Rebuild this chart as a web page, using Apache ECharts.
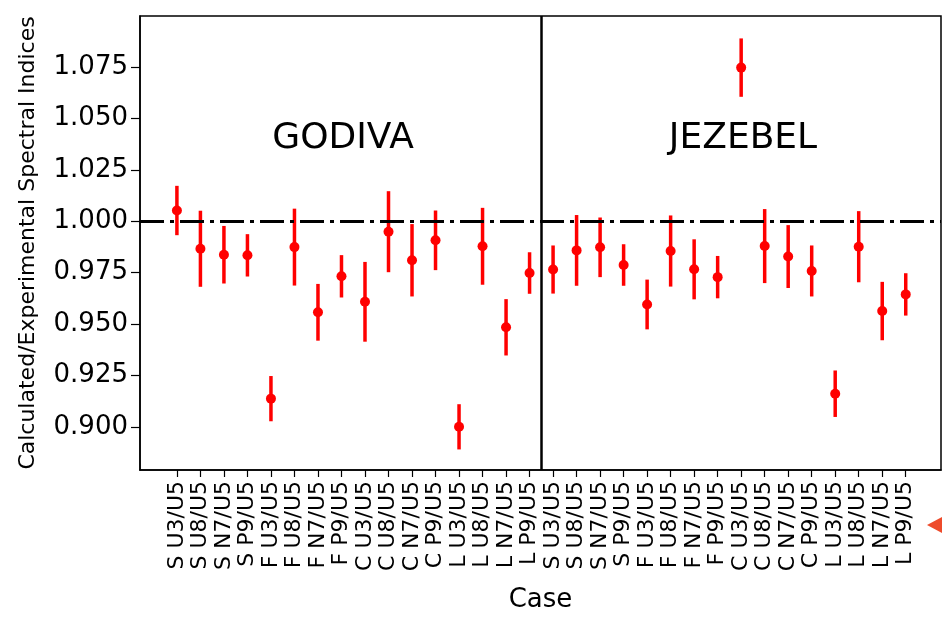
<!DOCTYPE html>
<html>
<head>
<meta charset="utf-8">
<script src="https://cdn.jsdelivr.net/npm/echarts@6/dist/echarts.min.js"></script>
<style>
  html, body { margin: 0; padding: 0; background: #fff; }
  #chart { width: 942px; height: 619px; }
</style>
</head>
<body>
<div id="chart"></div>
<script>
// case labels, same for both assemblies
var caseLabels = ['S U3/U5', 'S U8/U5', 'S N7/U5', 'S P9/U5',
  'F U3/U5', 'F U8/U5', 'F N7/U5', 'F P9/U5',
  'C U3/U5', 'C U8/U5', 'C N7/U5', 'C P9/U5',
  'L U3/U5', 'L U8/U5', 'L N7/U5', 'L P9/U5']

var godivaVals = [1.0052, 0.9866, 0.9837, 0.9834, 0.9137, 0.9874, 0.9557, 0.9732,
  0.9608, 0.9949, 0.9810, 0.9907, 0.9000, 0.9878, 0.9484, 0.9748]
var godivaErr = [0.0120, 0.0185, 0.0140, 0.0103, 0.0110, 0.0187, 0.0138, 0.0103,
  0.0194, 0.0197, 0.0176, 0.0145, 0.0110, 0.0187, 0.0137, 0.0101]

var jezebelVals = [0.9765, 0.9858, 0.9873, 0.9787, 0.9595, 0.9855, 0.9766, 0.9728,
  1.0747, 0.9879, 0.9828, 0.9758, 0.9161, 0.9876, 0.9563, 0.9644]
var jezebelErr = [0.0117, 0.0172, 0.0145, 0.0101, 0.0121, 0.0173, 0.0146, 0.0103,
  0.0142, 0.0180, 0.0153, 0.0124, 0.0113, 0.0173, 0.0142, 0.0103]

var yTicks = [0.900, 0.925, 0.950, 0.975, 1.000, 1.025, 1.050, 1.075]

var allLabels = caseLabels.concat(caseLabels)
var allVals = godivaVals.concat(jezebelVals)
var allErr = godivaErr.concat(jezebelErr)
var xIdx = allLabels.map(function (l, i) { return i })

var points = allVals.map(function (v, i) { return [i, v] })
var bars = allVals.map(function (v, i) { return [i, v - allErr[i], v + allErr[i]] })

var chart = echarts.init(document.getElementById('chart'))

chart.setOption({
  animation: false,
  backgroundColor: '#fff',
  textStyle: { fontFamily: 'DejaVu Sans' },
  grid: {
    left: 140, right: 1, top: 16, bottom: 149,
    show: true, borderColor: '#000', borderWidth: 1.5,
    containLabel: false
  },
  xAxis: {
    type: 'value',
    min: -1.57,
    max: 32.5,
    name: 'Case',
    nameLocation: 'middle',
    nameGap: 117,
    nameTextStyle: { fontSize: 26, color: '#000' },
    axisLine: { show: true, onZero: false, lineStyle: { color: '#000', width: 1.5 } },
    splitLine: { show: false },
    axisTick: { show: true, customValues: xIdx, length: 7, lineStyle: { color: '#000', width: 1.2 } },
    axisLabel: {
      customValues: xIdx,
      rotate: 90,
      fontSize: 22,
      color: '#000',
      margin: 11,
      formatter: function (v) { return allLabels[Math.round(v)] }
    }
  },
  yAxis: {
    type: 'value',
    min: 0.879,
    max: 1.0998,
    name: 'Calculated/Experimental Spectral Indices',
    nameLocation: 'middle',
    nameGap: 101,
    nameTextStyle: { fontSize: 22, color: '#000' },
    axisLine: { show: true, onZero: false, lineStyle: { color: '#000', width: 1.5 } },
    splitLine: { show: false },
    axisTick: { show: true, customValues: yTicks, length: 9, lineStyle: { color: '#000', width: 1.2 } },
    axisLabel: {
      customValues: yTicks,
      fontSize: 26,
      color: '#000',
      margin: 12,
      formatter: function (v) { return v.toFixed(3) }
    }
  },
  graphic: [
    { type: 'text', x: 343, y: 139, style: { text: 'GODIVA', fontSize: 36, fontFamily: 'DejaVu Sans', fill: '#000', align: 'center', verticalAlign: 'middle' } },
    { type: 'text', x: 743, y: 139, style: { text: 'JEZEBEL', fontSize: 36, fontFamily: 'DejaVu Sans', fill: '#000', align: 'center', verticalAlign: 'middle' } },
    { type: 'polygon', shape: { points: [[927, 525], [942, 517], [942, 533]] }, style: { fill: '#ee4b2b' } }
  ],
  series: [
    {
      type: 'custom',
      data: bars,
      renderItem: function (params, api) {
        var lo = api.coord([api.value(0), api.value(1)])
        var hi = api.coord([api.value(0), api.value(2)])
        return {
          type: 'line',
          shape: { x1: lo[0], y1: lo[1], x2: hi[0], y2: hi[1] },
          style: { stroke: '#ff0000', lineWidth: 3.5 }
        }
      },
      z: 2
    },
    {
      type: 'scatter',
      data: points,
      symbolSize: 10,
      itemStyle: { color: '#ff0000', opacity: 1 },
      z: 3,
      markLine: {
        silent: true,
        symbol: 'none',
        label: { show: false },
        data: [
          { yAxis: 1.0, lineStyle: { color: '#000', width: 3, type: [24, 6, 4, 6] } },
          { xAxis: 15.5, lineStyle: { color: '#000', width: 2.5, type: 'solid' } }
        ]
      }
    }
  ]
})
</script>
</body>
</html>
